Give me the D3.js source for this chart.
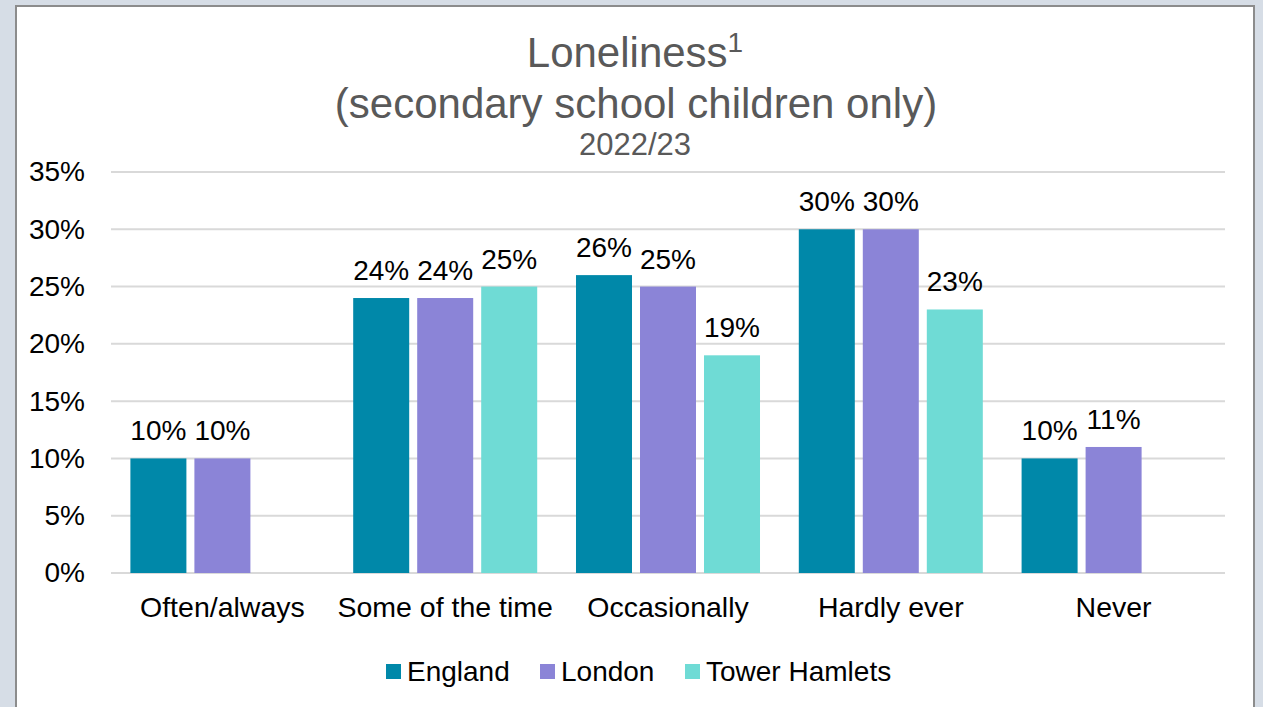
<!DOCTYPE html>
<html>
<head>
<meta charset="utf-8">
<script src="https://cdn.jsdelivr.net/npm/d3@7/dist/d3.min.js"></script>
<style>
  html, body { margin: 0; padding: 0; background: #d6dde6; }
  svg { display: block; font-family: "Liberation Sans", Arial, sans-serif; }
</style>
</head>
<body>
<svg id="chart" width="1263" height="707"></svg>
<script>
// Loneliness survey results, 2022/23
const categories = ["Often/always", "Some of the time", "Occasionally", "Hardly ever", "Never"];
const seriesNames = ["England", "London", "Tower Hamlets"];
const england = [10, 24, 26, 30, 10];
const london = [10, 24, 25, 30, 11];
const towerHamlets = [null, 25, 19, 23, null];
const yTicks = [0, 5, 10, 15, 20, 25, 30, 35];
const colors = ["#0088a9", "#8b84d7", "#6fdbd5"];

const seriesValues = [england, london, towerHamlets];

const svg = d3.select("#chart");
const FONT = "Liberation Sans, Arial, sans-serif";

// Chart panel
svg.append("rect")
  .attr("x", 16).attr("y", 6)
  .attr("width", 1238).attr("height", 720)
  .attr("fill", "#ffffff")
  .attr("stroke", "#8c8c8c")
  .attr("stroke-width", 2);

const plot = { left: 111, right: 1225, top: 172, bottom: 573 };

const x0 = d3.scaleBand()
  .domain(categories)
  .range([plot.left, plot.right])
  .paddingInner(0)
  .paddingOuter(0);

const x1 = d3.scaleBand()
  .domain(seriesNames)
  .range([0, x0.bandwidth()])
  .paddingInner(0.125)
  .paddingOuter(0.303);

const y = d3.scaleLinear().domain([0, 35]).range([plot.bottom, plot.top]);

// Gridlines
svg.append("g")
  .selectAll("line")
  .data(yTicks)
  .join("line")
  .attr("x1", plot.left).attr("x2", plot.right)
  .attr("y1", d => y(d)).attr("y2", d => y(d))
  .attr("stroke", "#d9d9d9")
  .attr("stroke-width", 2);

// Y axis labels
const yAxis = d3.axisLeft(y).tickValues(yTicks).tickFormat(d => d + "%").tickSize(0).tickPadding(0);
const yG = svg.append("g").attr("transform", `translate(85,0)`).call(yAxis);
yG.select(".domain").remove();
yG.selectAll("text")
  .attr("font-size", 28)
  .attr("fill", "#000000")
  .attr("font-family", FONT);

// Category axis labels
const xAxis = d3.axisBottom(x0).tickSize(0).tickPadding(0);
const xG = svg.append("g").attr("transform", `translate(0,617)`).call(xAxis);
xG.select(".domain").remove();
xG.selectAll("text")
  .attr("font-size", 28.5)
  .attr("fill", "#000000")
  .attr("y", 0)
  .attr("dy", 0)
  .attr("font-family", FONT);

// Bars and value labels
const rows = [];
categories.forEach((c, i) => {
  seriesNames.forEach((s, j) => {
    const v = seriesValues[j][i];
    if (v !== null && v !== undefined) rows.push({ cat: c, series: s, value: v, idx: j });
  });
});

const bars = svg.append("g");
bars.selectAll("rect")
  .data(rows)
  .join("rect")
  .attr("x", d => x0(d.cat) + x1(d.series))
  .attr("y", d => y(d.value))
  .attr("width", x1.bandwidth())
  .attr("height", d => y(0) - y(d.value))
  .attr("fill", d => colors[d.idx]);

bars.selectAll("text")
  .data(rows)
  .join("text")
  .attr("x", d => x0(d.cat) + x1(d.series) + x1.bandwidth() / 2)
  .attr("y", d => y(d.value) - 18)
  .attr("text-anchor", "middle")
  .attr("font-size", 28)
  .attr("fill", "#000000")
  .text(d => d.value + "%");

// Title
const title = svg.append("text")
  .attr("x", 635).attr("y", 67)
  .attr("text-anchor", "middle")
  .attr("font-size", 42)
  .attr("fill", "#595959");
title.append("tspan").text("Loneliness");
title.append("tspan").attr("font-size", 28).attr("dy", -15).text("1");

svg.append("text")
  .attr("x", 636).attr("y", 118)
  .attr("text-anchor", "middle")
  .attr("font-size", 42)
  .attr("fill", "#595959")
  .text("(secondary school children only)");

svg.append("text")
  .attr("x", 635).attr("y", 155)
  .attr("text-anchor", "middle")
  .attr("font-size", 31)
  .attr("fill", "#595959")
  .text("2022/23");

// Legend
const legendX = [386, 540, 685];
const legend = svg.append("g");
seriesNames.forEach((s, i) => {
  legend.append("rect")
    .attr("x", legendX[i]).attr("y", 664)
    .attr("width", 15).attr("height", 15)
    .attr("fill", colors[i]);
  legend.append("text")
    .attr("x", legendX[i] + 21).attr("y", 681)
    .attr("font-size", 28)
    .attr("fill", "#000000")
    .text(s);
});
</script>
</body>
</html>
